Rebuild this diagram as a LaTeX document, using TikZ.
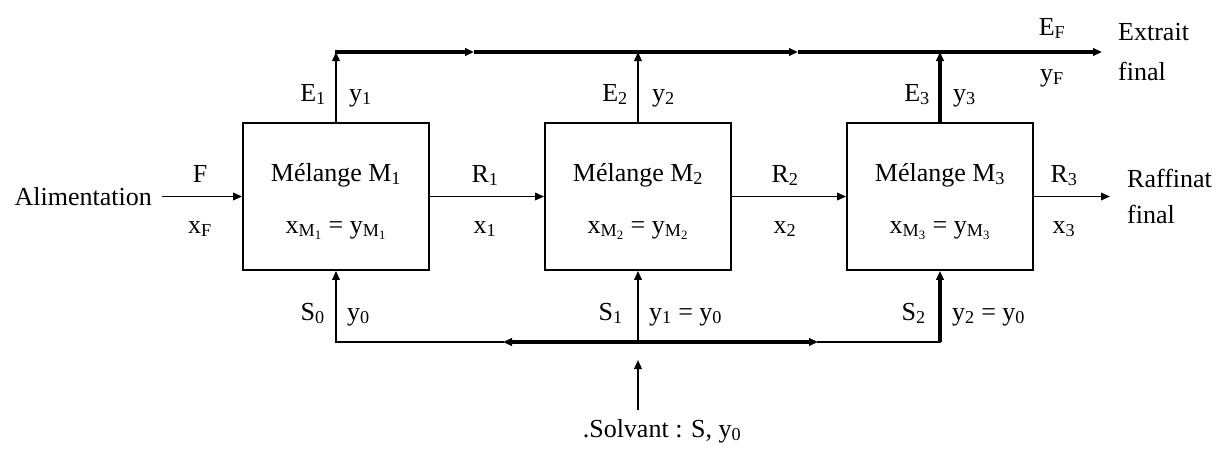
\documentclass[tikz,border=0pt]{standalone}
\usepackage{fontspec}
\setmainfont{Liberation Serif}
\usetikzlibrary{arrows.meta}
\begin{document}
\begin{tikzpicture}[x=1pt,y=-1pt,
  lbl/.style={font=\fontsize{26}{28}\selectfont, inner sep=0pt},
  mixer/.style={draw, line width=1.8pt, minimum width=186pt, minimum height=147pt, inner sep=0pt},
  tip/.style={-{Triangle[length=9pt,width=7.5pt]}},
  lineA/.style={line width=1.8pt},
  lineB/.style={line width=3.2pt}]
\useasboundingbox (0,0) rectangle (1227,448);

% mixers
\node[mixer] (m1) at (336,196.5) {};
\node[mixer] (m2) at (638,196.5) {};
\node[mixer] (m3) at (940,196.5) {};
\node[lbl, anchor=base] (m1a) at (m1 |- 0,181) {Mélange M\textsubscript{1}};
\node[lbl, anchor=base] (m1b) at (m1 |- 0,233) {x\textsubscript{M\textsubscript{1}} = y\textsubscript{M\textsubscript{1}}};
\node[lbl, anchor=base] (m2a) at (m2 |- 0,181) {Mélange M\textsubscript{2}};
\node[lbl, anchor=base] (m2b) at (m2 |- 0,233) {x\textsubscript{M\textsubscript{2}} = y\textsubscript{M\textsubscript{2}}};
\node[lbl, anchor=base] (m3a) at (m3 |- 0,181) {Mélange M\textsubscript{3}};
\node[lbl, anchor=base] (m3b) at (m3 |- 0,233) {x\textsubscript{M\textsubscript{3}} = y\textsubscript{M\textsubscript{3}}};

% junction points
\coordinate (feed) at (162,196.5);
\coordinate (raff) at (1110,196.5);
\coordinate (top1) at (336,52);
\coordinate (topa) at (474,52);
\coordinate (topb) at (798,52);
\coordinate (ext) at (1102,52);
\coordinate (bot1) at (336,342);
\coordinate (bot2) at (638,342);
\coordinate (bot3) at (940,342);
\coordinate (bota) at (503,342);
\coordinate (botb) at (818,342);
\coordinate (sv0) at (638,410);
\coordinate (sv1) at (638,360);

% raffinate train
\draw[lineA, tip] (feed) -- (m1.west);
\draw[lineA, tip] (m1.east) -- (m2.west);
\draw[lineA, tip] (m2.east) -- (m3.west);
\draw[lineA, tip] (m3.east) -- (raff);

% extract collector
\draw[lineA, tip] (m1.north) -- (top1);
\draw[lineA, tip] (m2.north) -- (m2.north |- top1);
\draw[lineB, tip] (m3.north) -- (m3.north |- top1);
\draw[lineB, tip] ([xshift=-1pt]top1) -- (topa);
\draw[lineB, tip] (topa) -- (topb);
\draw[lineB, tip] (topb) -- (ext);

% solvent distribution
\draw[lineA, tip] (sv0) -- (sv1);
\draw[lineB, tip] (bot2) -- (bota);
\draw[lineB, tip] (bot2) -- (botb);
\draw[lineA, line cap=rect] (bota) -- (bot1);
\draw[lineA, line cap=rect] (botb) -- (bot3);
\draw[lineA, tip] (bot1) -- (m1.south);
\draw[lineA, tip] (bot2) -- (m2.south);
\draw[lineB, tip] (bot3) -- (m3.south);

% stream labels
\node[lbl, anchor=base east] (alim) at (152,205) {Alimentation};
\node[lbl, anchor=base] (lF) at (200,182) {F};
\node[lbl, anchor=base] (lxF) at (200,233) {x\textsubscript{F}};
\node[lbl, anchor=base] (lR1) at (485,182) {R\textsubscript{1}};
\node[lbl, anchor=base] (lx1) at (485,233) {x\textsubscript{1}};
\node[lbl, anchor=base] (lR2) at (785,182) {R\textsubscript{2}};
\node[lbl, anchor=base] (lx2) at (785,233) {x\textsubscript{2}};
\node[lbl, anchor=base] (lR3) at (1064,182) {R\textsubscript{3}};
\node[lbl, anchor=base] (lx3) at (1064,233) {x\textsubscript{3}};
\node[lbl, anchor=base west] (raf1) at (1127,187) {Raffinat};
\node[lbl, anchor=base west] (raf2) at (1127,223) {final};

\node[lbl, anchor=base east] (lE1) at (326,101) {E\textsubscript{1}};
\node[lbl, anchor=base west] (ly1) at (349,101) {y\textsubscript{1}};
\node[lbl, anchor=base east] (lE2) at (628,101) {E\textsubscript{2}};
\node[lbl, anchor=base west] (ly2) at (652,101) {y\textsubscript{2}};
\node[lbl, anchor=base east] (lE3) at (930,101) {E\textsubscript{3}};
\node[lbl, anchor=base west] (ly3) at (953,101) {y\textsubscript{3}};
\node[lbl, anchor=base] (lEF) at (1052,35) {E\textsubscript{F}};
\node[lbl, anchor=base] (lyF) at (1052,81) {y\textsubscript{F}};
\node[lbl, anchor=base west] (ext1) at (1118,40) {Extrait};
\node[lbl, anchor=base west] (ext2) at (1118,80) {final};

\node[lbl, anchor=base east] (lS0) at (325,320) {S\textsubscript{0}};
\node[lbl, anchor=base west] (ly0) at (347,320) {y\textsubscript{0}};
\node[lbl, anchor=base east] (lS1) at (623,320) {S\textsubscript{1}};
\node[lbl, anchor=base west] (ly10) at (649,320) {y\textsubscript{1} = y\textsubscript{0}};
\node[lbl, anchor=base east] (lS2) at (926,320) {S\textsubscript{2}};
\node[lbl, anchor=base west] (ly20) at (952,320) {y\textsubscript{2} = y\textsubscript{0}};
\node[lbl, anchor=base] (solv) at (662,437) {.Solvant : S, y\textsubscript{0}};
\end{tikzpicture}
\end{document}
